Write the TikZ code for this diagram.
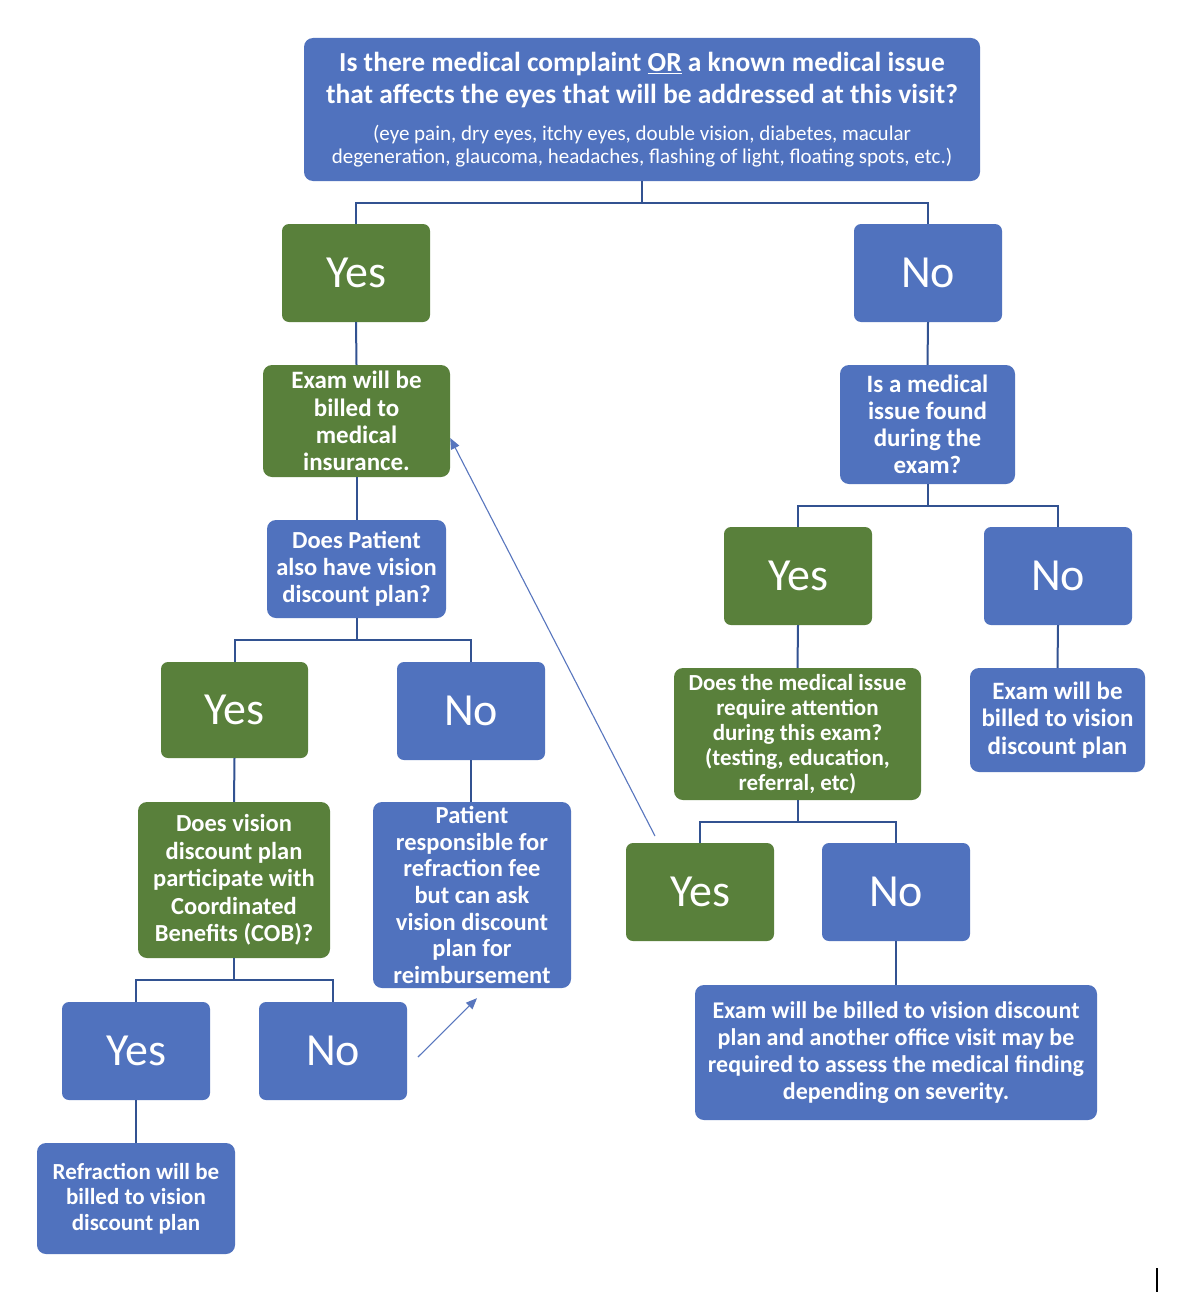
\documentclass[tikz,border=0pt]{standalone}
\usepackage{fontspec}
\setmainfont{Carlito}
\usetikzlibrary{arrows.meta}
\definecolor{bbox}{RGB}{80,114,190}
\definecolor{gbox}{RGB}{89,128,59}
\definecolor{cline}{RGB}{50,82,145}
\definecolor{aline}{RGB}{88,118,190}
\tikzset{
  box/.style={rounded corners=9pt, inner sep=0pt, text=white, align=center, font=\bfseries\fontsize{25}{27.2}\selectfont},
  bluebox/.style={box, fill=bbox},
  greenbox/.style={box, fill=gbox},
  yn/.style={inner sep=0pt, rounded corners=7pt, text=white, minimum width=148pt, minimum height=98pt, font=\fontsize{46}{50}\selectfont},
  yesg/.style={yn, fill=gbox},
  nob/.style={yn, fill=bbox},
  conn/.style={draw=cline, line width=2pt},
  arr/.style={draw=aline, line width=1.1pt, -{Triangle[length=11pt,width=9pt]}},
}
\begin{document}
\begin{tikzpicture}[x=1pt,y=-1pt]
\useasboundingbox (0,0) rectangle (1184,1298);
\fill[white] (0,0) rectangle (1184,1298);

% top box
\node[bluebox, minimum width=676pt, minimum height=143pt, font=\bfseries\fontsize{27.5}{32}\selectfont] (top) at (642,109.5)
 {Is there medical complaint \underline{OR} a known medical issue\\
  that affects the eyes that will be addressed at this visit?\\[5pt]
  {\mdseries\fontsize{21}{23}\selectfont (eye pain, dry eyes, itchy eyes, double vision, diabetes, macular}\\[-9pt]
  {\mdseries\fontsize{21}{23}\selectfont degeneration, glaucoma, headaches, flashing of light, floating spots, etc.)}};

\node[yesg] (yes1) at (356,273) {Yes};
\node[nob] (no1) at (928,273) {No};

\node[greenbox, minimum width=187pt, minimum height=112pt] (med) at (356.5,421)
 {Exam will be\\billed to\\medical\\insurance.};
\node[bluebox, minimum width=179pt, minimum height=98pt, font=\bfseries\fontsize{24.5}{27}\selectfont] (dpv) at (356.5,569)
 {Does Patient\\also have vision\\discount plan?};

\node[yesg, minimum width=147pt, minimum height=96pt] (yes2) at (234.5,710) {Yes};
\node[nob] (no2) at (471,711) {No};

\node[greenbox, minimum width=192pt, minimum height=156pt, font=\bfseries\fontsize{24.5}{27.5}\selectfont] (dvp) at (234,880)
 {Does vision\\discount plan\\participate with\\Coordinated\\Benefits (COB)?};
\node[bluebox, minimum width=198pt, minimum height=186pt, font=\bfseries\fontsize{24.5}{26.7}\selectfont] (pr) at (472,895)
 {Patient\\responsible for\\refraction fee\\but can ask\\vision discount\\plan for\\reimbursement};

\node[nob] (yes3) at (136,1051) {Yes};
\node[nob] (no3) at (333,1051) {No};

\node[bluebox, minimum width=198pt, minimum height=111pt, font=\bfseries\fontsize{23}{25.5}\selectfont] (ref) at (136,1198.5)
 {Refraction will be\\billed to vision\\discount plan};

% right branch
\node[bluebox, minimum width=175pt, minimum height=119pt] (mif) at (927.5,424.5)
 {Is a medical\\issue found\\during the\\exam?};

\node[yesg] (yes4) at (798,576) {Yes};
\node[nob] (no4) at (1058,576) {No};

\node[greenbox, minimum width=247pt, minimum height=132pt, font=\bfseries\fontsize{23}{25}\selectfont] (dmi) at (797.5,734)
 {Does the medical issue\\require attention\\during this exam?\\(testing, education,\\referral, etc)};
\node[bluebox, minimum width=175pt, minimum height=104pt] (evd) at (1057.5,720)
 {Exam will be\\billed to vision\\discount plan};

\node[yesg] (yes5) at (700,892) {Yes};
\node[nob] (no5) at (896,892) {No};

\node[bluebox, minimum width=402pt, minimum height=135pt, font=\bfseries\fontsize{24}{27}\selectfont] (eva) at (896,1052.5)
 {Exam will be billed to vision discount\\plan and another office visit may be\\required to assess the medical finding\\depending on severity.};

% connectors
\draw[conn] (top.south) -- ++(0,22) coordinate (t1);
\draw[conn] (yes1.north) |- (t1) -| (no1.north);
\draw[conn] (yes1.south) -- (med.north);
\draw[conn] (no1.south) -- (mif.north);
\draw[conn] (med.south) -- (dpv.north);

\draw[conn] (dpv.south) -- ++(0,22) coordinate (t2);
\draw[conn] (yes2.north) |- (t2) -| (no2.north);
\draw[conn] (yes2.south) -- (dvp.north);
\draw[conn] (no2.south) -- (no2.south |- pr.north);

\draw[conn] (dvp.south) -- ++(0,22) coordinate (t3);
\draw[conn] (yes3.north) |- (t3) -| (no3.north);
\draw[conn] (yes3.south) -- (ref.north);

\draw[conn] (mif.south) -- ++(0,22) coordinate (t4);
\draw[conn] (yes4.north) |- (t4) -| (no4.north);
\draw[conn] (yes4.south) -- (dmi.north);
\draw[conn] (no4.south) -- (evd.north);

\draw[conn] (dmi.south) -- ++(0,22) coordinate (t5);
\draw[conn] (yes5.north) |- (t5) -| (no5.north);
\draw[conn] (no5.south) -- (eva.north);

% arrows
\coordinate (a1) at (655,836);
\draw[arr] (a1) -- ([yshift=-17pt]med.east);
\coordinate (a2) at (418,1057);
\draw[arr] (a2) -- ([shift={(5pt,-10pt)}]pr.south);

% small cursor mark
\draw[black, line width=2pt] (1157,1268) -- (1157,1292);
\end{tikzpicture}
\end{document}
